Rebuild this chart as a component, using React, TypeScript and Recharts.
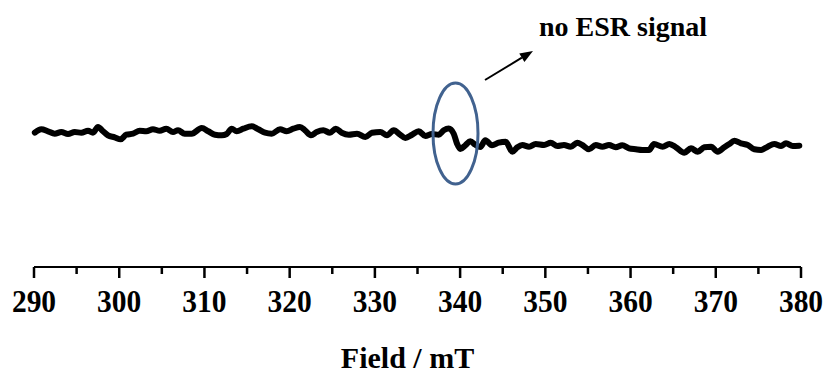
import React from 'react';
import { LineChart, Line, XAxis, YAxis, ReferenceDot, ReferenceLine } from 'recharts';

// field (mT) and ESR signal (arbitrary units)
const field = [
  290.1, 290.86, 291.64, 292.43, 293.2, 293.99, 294.78, 295.55, 296.34, 296.92,
  297.51, 298.1, 298.68, 299.47, 300.17, 300.83, 301.62, 302.4, 303.18, 303.96,
  304.75, 305.52, 306.31, 306.9, 307.68, 308.5, 309.68, 310.45, 311.24, 312.03,
  312.61, 313.2, 313.79, 314.56, 315.55, 316.32, 317.11, 317.89, 318.87, 319.65,
  320.43, 321.21, 321.8, 322.5, 323.17, 323.95, 324.73, 325.4, 326.11, 326.93,
  327.9, 328.88, 329.66, 330.64, 331.42, 332.21, 332.98, 333.57, 334.36, 335.14,
  335.92, 336.7, 337.49, 338.08, 338.66, 339.25, 339.64, 340.02, 340.61, 341.2,
  341.78, 342.37, 342.96, 343.74, 344.53, 345.35, 346.13, 346.71, 347.3, 348.09,
  348.87, 349.85, 350.63, 351.41, 352.19, 352.98, 353.75, 354.34, 355.13, 355.91,
  356.69, 357.47, 358.26, 359.03, 359.82, 360.61, 361.38, 362.17, 362.75, 363.77,
  364.55, 365.33, 366.31, 367.09, 367.88, 368.66, 369.44, 370.23, 371.0, 371.59,
  372.18, 372.96, 373.75, 374.52, 375.31, 376.09, 376.87, 377.66, 378.24, 379.03,
  379.8,
];
const signal = [
  34.3, 37.7, 35.7, 33.3, 35, 33, 35, 34.3, 36.3, 34.3,
  40, 35.7, 31.7, 29.7, 27.7, 32.3, 33.3, 36.3, 35.7, 37.7,
  36.3, 38.3, 35, 36.7, 33.3, 33.3, 39, 35.7, 32.3, 31.7,
  33, 38.3, 35.7, 38.3, 40.7, 37.7, 34.3, 33.3, 37.7, 35.7,
  38.3, 40, 36.7, 31.7, 35, 36.7, 34.3, 38.3, 34.3, 32.3,
  33.3, 30, 34.3, 35, 31.7, 36.7, 32.3, 29, 32.3, 35.7,
  31, 33, 32.3, 36.7, 38.5, 33.3, 23.3, 18, 21.7, 25.7,
  22.3, 20, 26.7, 21.7, 24.3, 25.3, 15.3, 19.7, 22, 20.3,
  23, 22, 24.3, 21, 22, 20.3, 24.3, 22, 17.7, 22,
  20.3, 22, 19.7, 21.7, 18.7, 17.7, 17, 17, 23, 20.3,
  23, 19.7, 14.3, 18.7, 15.3, 19.7, 20.3, 15.3, 19.7, 23,
  26.3, 23.7, 22, 17.7, 17, 20.3, 23, 21, 23.7, 21,
  21.3,
];
const fieldTicks = [290, 295, 300, 305, 310, 315, 320, 325, 330, 335, 340, 345, 350, 355, 360, 365, 370, 375, 380];

const data = field.map((f, i) => ({ field: f, signal: signal[i] }));

const FONT = '"Liberation Serif", "Times New Roman", serif';

if (typeof document !== 'undefined') document.body.style.margin = '0';

// major ticks every 10 mT with a label, minor ticks in between
const FieldTick = ({ x, y, payload }: any) => {
  const v = payload?.value;
  const major = v % 10 === 0;
  return (
    <g>
      <line x1={x} y1={y} x2={x} y2={y + (major ? 11 : 7)} stroke="#000" strokeWidth={2.5} />
      {major && (
        <text
          transform={`translate(${x},${y + 44.5}) scale(1,1.08)`}
          textAnchor="middle"
          fontSize={29.5}
          fontWeight="bold"
          fontFamily={FONT}
          fill="#000"
        >
          {v}
        </text>
      )}
    </g>
  );
};

const Arrow = ({ x1, y1, x2, y2 }: any) => {
  const ang = Math.atan2(y2 - y1, x2 - x1);
  const len = 13;
  const w = 5;
  const bx = x2 - len * Math.cos(ang);
  const by = y2 - len * Math.sin(ang);
  const px = -Math.sin(ang) * w;
  const py = Math.cos(ang) * w;
  return (
    <g>
      <line x1={x1} y1={y1} x2={bx} y2={by} stroke="#000" strokeWidth={2} />
      <polygon points={`${x2},${y2} ${bx + px},${by + py} ${bx - px},${by - py}`} fill="#000" />
    </g>
  );
};

export default function App() {
  return (
    <div style={{ width: 828, height: 373, background: '#fff' }}>
      <LineChart width={828} height={373} data={data} margin={{ top: 0, right: 27, left: 34, bottom: 0 }}>
        <XAxis
          dataKey="field"
          type="number"
          domain={[290, 380]}
          ticks={fieldTicks}
          interval={0}
          height={106}
          tickSize={0}
          tickMargin={0}
          tickLine={false}
          axisLine={{ stroke: '#000', strokeWidth: 2 }}
          tick={<FieldTick />}
          label={{
            value: 'Field / mT',
            position: 'insideBottom',
            offset: 5,
            dx: -10,
            fill: '#000',
            style: { fontFamily: FONT, fontSize: 30, fontWeight: 'bold', fill: '#000' },
          }}
        />
        <YAxis hide type="number" domain={[-100, 167]} />
        <Line
          type="monotone"
          dataKey="signal"
          stroke="#000"
          strokeWidth={6}
          strokeLinejoin="round"
          strokeLinecap="round"
          dot={false}
          isAnimationActive={false}
        />
        <ReferenceDot
          x={339.46}
          y={33.5}
          ifOverflow="visible"
          shape={(p: any) => (
            <ellipse cx={p.cx} cy={p.cy} rx={22.5} ry={50.5} fill="none" stroke="#41628f" strokeWidth={3} />
          )}
        />
        <ReferenceLine
          segment={[{ x: 342.92, y: 87 }, { x: 348.55, y: 116 }]}
          ifOverflow="visible"
          shape={(p: any) => <Arrow {...p} />}
        />
        <ReferenceDot
          x={349.26}
          y={131.3}
          ifOverflow="visible"
          shape={(p: any) => (
            <text x={p.cx} y={p.cy} fontFamily={FONT} fontSize={28} fontWeight="bold" fill="#000">
              no ESR signal
            </text>
          )}
        />
      </LineChart>
    </div>
  );
}
